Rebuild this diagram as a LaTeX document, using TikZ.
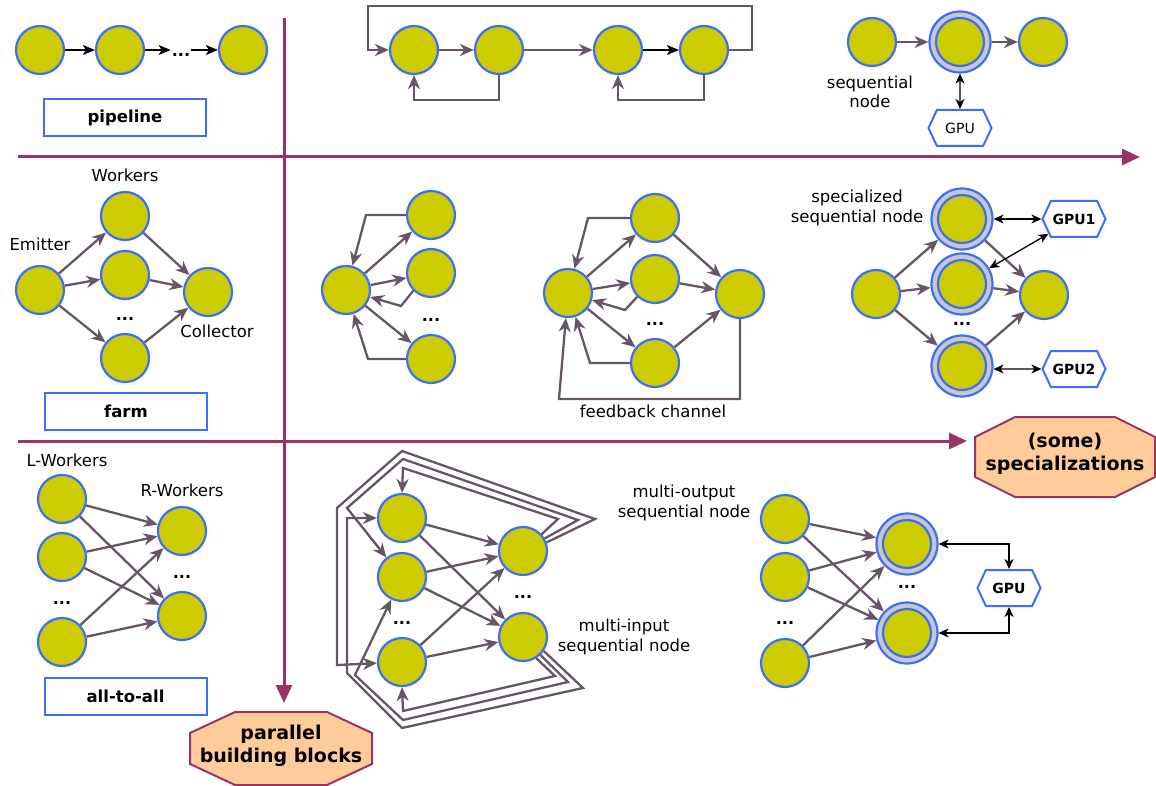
\documentclass[tikz,border=0pt]{standalone}
\usepackage{fontspec}
\setmainfont{DejaVu Sans}
\usetikzlibrary{arrows.meta,shapes.symbols,calc}
\definecolor{nodefill}{HTML}{CCCC00}
\definecolor{nodeline}{HTML}{3D6DFF}
\definecolor{chan}{HTML}{665566}
\definecolor{axiscol}{HTML}{993366}
\definecolor{peach}{HTML}{FFCC99}
\definecolor{ring}{HTML}{C8C8C8}
\tikzset{
  proc/.style={circle, draw=nodeline, fill=nodefill, line width=2.2pt,
    minimum size=48pt, inner sep=0pt},
  gproc/.style={circle, draw=nodeline, fill=ring, line width=2.2pt,
    minimum size=61pt, inner sep=0pt,
    path picture={\draw[nodeline, line width=2.2pt, fill=nodefill]
      (path picture bounding box.center) circle[radius=24pt];}},
  chanarrow/.style={draw=chan, line width=2.3pt,
    -{Stealth[length=14pt,width=12pt,inset=4.5pt]}},
  blk/.style={draw=black, line width=1.4pt, -{Stealth[length=12pt,width=10pt,inset=3pt]}},
  blkboth/.style={draw=black, line width=1.3pt,
    {Stealth[length=10pt,width=9pt,inset=3pt]}-{Stealth[length=10pt,width=9pt,inset=3pt]}},
  axisarrow/.style={draw=axiscol, line width=3pt,
    -{Triangle[length=18pt,width=16pt]}},
  lbl/.style={font=\fontsize{16.5}{19.5}\selectfont, align=center, inner sep=0pt},
  dots/.style={font=\fontsize{16}{19}\selectfont\bfseries, inner sep=1pt},
  tbox/.style={draw=nodeline, line width=2pt, fill=white,
    font=\fontsize{16.5}{19}\selectfont\bfseries,
    minimum width=162pt, minimum height=37pt, inner sep=0pt},
  gpu/.style={signal, signal to=east and west, signal pointer angle=130,
    draw=nodeline, line width=2pt, fill=white, minimum width=63pt,
    minimum height=36pt, inner sep=0pt},
  octline/.style={draw=axiscol, line width=2pt, fill=peach, line join=miter},
  octtext/.style={font=\fontsize{19}{23}\selectfont\bfseries, align=center, inner sep=0pt}
}
\begin{document}
\begin{tikzpicture}[x=1pt,y=-1pt]
\useasboundingbox (0,0) rectangle (1156,786);

% ---------- axes ----------
\coordinate (hA) at (18,157);  \coordinate (hB) at (1140,157);
\coordinate (hC) at (18,441);  \coordinate (hD) at (967,441);
\coordinate (vA) at (284,18);  \coordinate (vB) at (284,703);
\draw[axisarrow] (hA) -- (hB);
\draw[axisarrow] (hC) -- (hD);
\draw[axisarrow] (vA) -- (vB);
% octagonal tags
\draw[octline] (1015,417) -- (1115,417) -- (1155,437) -- (1155,477) -- (1115,497)
  -- (1015,497) -- (975,477) -- (975,437) -- cycle;
\node[octtext] (spec) at (1065,454) {(some)\\specializations};
\draw[octline] (235,712) -- (327,712) -- (372,733) -- (372,764) -- (327,785)
  -- (235,785) -- (190,764) -- (190,733) -- cycle;
\node[octtext] (pbb) at (281,746) {parallel\\building blocks};

% ---------- pipeline ----------
\node[proc] (p1) at (40,50) {};
\node[proc] (p2) at (120,50) {};
\node[proc] (p3) at (243,50) {};
\node[dots] (pd) at (181,55) {...};
\draw[blk] (p1) -- (p2);
\draw[blk] (p2) -- (pd.west |- p2);
\draw[blk] (pd.east |- p3) -- (p3);
\node[tbox] (pipebox) at (125,117.5) {pipeline};

% ---------- pipeline with feedback ----------
\node[proc] (t1) at (414,50) {};
\node[proc] (t2) at (499,50) {};
\node[proc] (t3) at (618,50) {};
\node[proc] (t4) at (704,50) {};
\draw[chanarrow] (t1) -- (t2);
\draw[chanarrow] (t2) -- (t3);
\draw[blk] (t3) -- (t4);
\draw[chanarrow] (t4.east) -- ++(23,0) -- ++(0,-44) -| ($(t1.west)+(-21,0)$) -- (t1.west);
\draw[chanarrow] (t2.south) -- ++(0,25) -| (t1.south);
\draw[chanarrow] (t4.south) -- ++(0,25) -| (t3.south);

% ---------- sequential node with GPU ----------
\node[proc] (ra) at (872,42) {};
\node[gproc] (rs) at (960,42) {};
\node[proc] (rc) at (1043,42) {};
\node[gpu, font=\fontsize{14}{16}\selectfont] (rg) at (960,128) {GPU};
\draw[chanarrow] (ra) -- (rs);
\draw[chanarrow] (rs) -- (rc);
\draw[blkboth] (rs) -- (rg);
\node[lbl] (rlab) at (870,92) {sequential\\node};

% ---------- farm ----------
\node[proc] (fe) at (40,290) {};
\node[proc] (fw1) at (125,216) {};
\node[proc] (fw2) at (125,275) {};
\node[proc] (fw3) at (125,358) {};
\node[proc] (fc) at (208,292) {};
\node[dots] (fd) at (125,319) {...};
\foreach \w in {fw1,fw2,fw3} {
  \draw[chanarrow] (fe) -- (\w);
  \draw[chanarrow] (\w) -- (fc);
}
\node[lbl] (flw) at (125,175) {Workers};
\node[lbl] (fle) at (40,244) {Emitter};
\node[lbl] (flc) at (217,331) {Collector};
\node[tbox] (farmbox) at (126,411) {farm};

% ---------- farm with worker feedback ----------
\node[proc] (ge) at (346,290) {};
\node[proc] (gw1) at (431,215) {};
\node[proc] (gw2) at (431,273) {};
\node[proc] (gw3) at (431,359) {};
\node[dots] (gd) at (431,320) {...};
\foreach \w in {gw1,gw2,gw3} \draw[chanarrow] (ge) -- (\w);
\draw[chanarrow] (gw1.west) -- (366,215) -- (ge);
\draw[chanarrow] (gw2.south west) -- (401,306) -- (ge);
\draw[chanarrow] (gw3.west) -- (368,359) -- (ge);

% ---------- farm with feedback channel ----------
\node[proc] (he) at (568,293) {};
\node[proc] (hw1) at (655,218) {};
\node[proc] (hw2) at (655,279) {};
\node[proc] (hw3) at (655,363) {};
\node[proc] (hc) at (740,294) {};
\node[dots] (hd) at (655,324) {...};
\foreach \w in {hw1,hw2,hw3} {
  \draw[chanarrow] (he) -- (\w);
  \draw[chanarrow] (\w) -- (hc);
}
\draw[chanarrow] (hw1.west) -- (588,218) -- (he);
\draw[chanarrow] (hw2.south west) -- (625,310) -- (he);
\draw[chanarrow] (hw3.west) -- (590,363) -- (he);
\draw[chanarrow] (hc.south) |- (559,399) -- (he);
\node[lbl] (hlab) at (653,411) {feedback channel};

% ---------- farm of specialized nodes ----------
\node[proc] (ke) at (876,294) {};
\node[gproc] (ks1) at (962,219) {};
\node[gproc] (ks2) at (962,284) {};
\node[gproc] (ks3) at (962,366) {};
\node[proc] (kc) at (1044,295) {};
\node[dots] (kd) at (962,324) {...};
\foreach \w in {ks1,ks2,ks3} {
  \draw[chanarrow] (ke) -- (\w);
  \draw[chanarrow] (\w) -- (kc);
}
\node[gpu, font=\fontsize{14}{16}\selectfont\bfseries] (kg1) at (1074,219) {GPU1};
\node[gpu, font=\fontsize{14}{16}\selectfont\bfseries] (kg2) at (1074,369) {GPU2};
\draw[blkboth] (ks1) -- (kg1);
\draw[blkboth] (ks2) -- (kg1);
\draw[blkboth] (ks3.east |- kg2) -- (kg2);
\node[lbl] (klab) at (857,208) {specialized\\sequential node};

% ---------- all-to-all ----------
\node[proc] (aL1) at (62,499) {};
\node[proc] (aL2) at (62,557) {};
\node[proc] (aL3) at (62,642) {};
\node[proc] (aR1) at (182,531) {};
\node[proc] (aR2) at (182,616) {};
\node[dots] (adL) at (62,603) {...};
\node[dots] (adR) at (182,577) {...};
\foreach \l in {aL1,aL2,aL3} \foreach \r in {aR1,aR2} \draw[chanarrow] (\l) -- (\r);
\node[lbl] (alL) at (67,460) {L-Workers};
\node[lbl] (alR) at (182,490) {R-Workers};
\node[tbox] (a2abox) at (125.5,696.5) {all-to-all};

% ---------- all-to-all with feedback ----------
\node[proc] (bL1) at (402,518) {};
\node[proc] (bL2) at (402,577) {};
\node[proc] (bL3) at (402,662) {};
\node[proc] (bR1) at (523,551) {};
\node[proc] (bR2) at (523,637) {};
\node[dots] (bdL) at (402,623) {...};
\node[dots] (bdR) at (523,597) {...};
\foreach \l in {bL1,bL2,bL3} \foreach \r in {bR1,bR2} \draw[chanarrow] (\l) -- (\r);
% feedback out of the multi-output node
\draw[chanarrow] (bR1.42) -- (558,519) -- (403,468) -- (bL1.north);
\draw[chanarrow] (bR1.30) -- (578,520) -- (403,459) -- (347,508) -- (bL2);
\draw[chanarrow] (bR1.20) -- (595,519) -- (402,451) -- (337,508) -- (337,665) -- (bL3);
% feedback out of the multi-input node
\draw[chanarrow] (bR2.-58) -- (555,676) -- (403,711) -- (bL3.south);
\draw[chanarrow] (bR2.-46) -- (568,682) -- (403,720) -- (355,675) -- (bL2);
\draw[chanarrow] (bR2.-34) -- (583,688) -- (402,728) -- (347,673) -- (347,518) -- (bL1);
\node[lbl] (blo) at (684,503) {multi-output\\sequential node};
\node[lbl] (bli) at (624,637) {multi-input\\sequential node};

% ---------- all-to-all of specialized nodes ----------
\node[proc] (cL1) at (785,519) {};
\node[proc] (cL2) at (785,577) {};
\node[proc] (cL3) at (785,663) {};
\node[gproc] (cS1) at (907,544) {};
\node[gproc] (cS2) at (907,633) {};
\node[dots] (cdL) at (785,623) {...};
\node[dots] (cdR) at (907,587) {...};
\foreach \l in {cL1,cL2,cL3} \foreach \r in {cS1,cS2} \draw[chanarrow] (\l) -- (\r);
\node[gpu, font=\fontsize{14}{16}\selectfont\bfseries] (cg) at (1009,588) {GPU};
\draw[blkboth] (cS1.east) -| (cg.north);
\draw[blkboth] (cS2.east) -| (cg.south);
\end{tikzpicture}
\end{document}
